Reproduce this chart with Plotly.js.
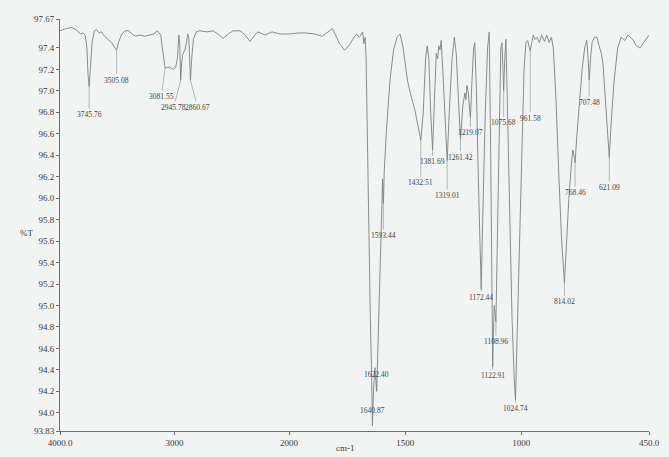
<!DOCTYPE html>
<html>
<head>
<meta charset="utf-8">
<script src="https://cdn.plot.ly/plotly-3.0.1.min.js"></script>
<style>
html,body{margin:0;padding:0;background:#f1f4f3;}
#chart{width:669px;height:457px;}
</style>
</head>
<body>
<div id="chart"></div>
<script>
// ---- Data (wavenumber cm-1, %T) ----
const wavenumber = [
 4000,3950,3900,3860,3820,3800,3780,3765,3755,3745.76,3735,3720,3700,3680,3660,3640,3610,3580,3550,3520,3505.08,3490,3460,3430,3400,3370,3340,3300,3260,3220,3180,3150,3120,3100,3081.55,3060,3040,3010,2990,2975,2962,2955,2945.78,2938,2930,2920,2910,2895,2885,2875,2860.67,2850,2835,2810,2780,2716,2664,2620,2576,2530,2489,2428,2380,2341,2300,2271,2210,2148,2079,2000,
 1960,1926,1890,1857,1830,1813,1795,1783,1761,1739,1720,1709,1697,1690,1683,1678,1672,1668,1662,1656,1650,1645,1640.87,1636,1630,1626,1622.40,1616,1608,1600,1597,1595,1593.44,1590,1580,1565,1550,1535,1522,1510,1501,1490,1479,1458,1445,1432.51,1422,1412,1405,1398,1390,1381.69,1374,1366,1360,1355,1350,1345,1338,1328,1319.01,1310,1298,1288,1280,1270,1261.42,1252,1243,1238,1234,1229,1224,1219.07,1212,1205,1200,1193,1185,1178,1172.44,1165,1155,1145,1138,1132,1127,1122.91,1119,1116,1113,1108.96,1103,1095,1088,1083,1079,1075.68,1071,1066,1060,1050,1040,1030,1024.74,1018,1008,998,988,980,972,965,961.58,955,948,940,932,922,912,900,890,880,870,862,850,838,826,814.02,805,795,785,778,773,768.46,760,748,738,727,718,712,707.48,702,695,685,674,665,655,648,640,630,621.09,613,600,585,570,554,541,520,505,489,470,450
];
const transmittance = [
 97.56,97.58,97.59,97.57,97.53,97.54,97.52,97.40,97.15,97.04,97.20,97.45,97.56,97.57,97.54,97.55,97.51,97.48,97.45,97.40,97.38,97.45,97.53,97.56,97.56,97.53,97.51,97.52,97.51,97.52,97.53,97.56,97.52,97.35,97.21,97.22,97.22,97.20,97.22,97.30,97.52,97.45,97.10,97.25,97.33,97.36,97.38,97.45,97.53,97.50,97.10,97.30,97.48,97.55,97.56,97.55,97.56,97.53,97.49,97.53,97.56,97.56,97.52,97.46,97.52,97.55,97.52,97.55,97.53,97.53,
 97.54,97.54,97.53,97.51,97.55,97.58,97.50,97.44,97.38,97.43,97.50,97.53,97.50,97.52,97.55,97.44,97.50,97.30,96.40,95.60,94.90,94.45,93.88,94.20,94.42,94.30,94.20,94.70,95.35,95.95,96.18,96.02,95.95,96.25,96.65,97.10,97.38,97.50,97.53,97.42,97.27,97.10,96.99,96.82,96.68,96.54,96.80,97.30,97.42,97.30,96.80,96.45,96.90,97.35,97.30,97.42,97.38,97.47,97.20,96.70,96.35,96.80,97.30,97.50,97.35,96.90,96.55,96.85,96.98,96.92,97.05,97.00,96.90,96.75,97.10,97.40,97.45,97.00,96.20,95.50,95.15,95.90,96.80,97.40,97.55,96.50,95.20,94.43,94.80,95.00,94.92,94.85,95.60,96.60,97.40,97.45,97.20,97.00,97.30,97.48,96.90,95.90,94.90,94.30,94.12,94.70,95.60,96.50,97.20,97.45,97.47,97.40,97.37,97.45,97.52,97.48,97.50,97.45,97.52,97.46,97.52,97.45,97.50,97.40,96.90,96.20,95.60,95.21,95.60,96.00,96.30,96.45,96.40,96.33,96.60,96.95,97.20,97.40,97.47,97.30,97.10,97.30,97.45,97.50,97.50,97.42,97.35,97.25,97.00,96.60,96.38,96.70,97.10,97.40,97.50,97.47,97.52,97.48,97.42,97.40,97.46,97.52
];
const peakText = ["3745.76","3505.08","3081.55","2945.78","2860.67","1640.87","1622.40","1593.44","1432.51","1381.69","1319.01","1261.42","1219.07","1172.44","1122.91","1108.96","1075.68","1024.74","961.58","814.02","768.46","707.48","621.09"];
const peakWavenumber = [3745.76,3505.08,3081.55,2945.78,2860.67,1640.87,1622.40,1593.44,1432.51,1381.69,1319.01,1261.42,1219.07,1172.44,1122.91,1108.96,1075.68,1024.74,961.58,814.02,768.46,707.48,621.09];
const peakValue = [97.04,97.38,97.21,97.10,97.10,93.88,94.20,95.95,96.54,96.45,96.35,96.55,96.75,95.15,94.43,94.85,97.00,94.12,97.37,95.21,96.33,97.10,96.38];
const yTickVals = [97.67,97.4,97.2,97.0,96.8,96.6,96.4,96.2,96.0,95.8,95.6,95.4,95.2,95.0,94.8,94.6,94.4,94.2,94.0,93.83];
const yTickText = ["97.67","97.4","97.2","97.0","96.8","96.6","96.4","96.2","96.0","95.8","95.6","95.4","95.2","95.0","94.8","94.6","94.4","94.2","94.0","93.83"];
const xLeftTickVals = [4000,3000];
const xLeftTickText = ["4000.0","3000"];
const xRightTickVals = [2000,1500,1000,450];
const xRightTickText = ["2000","1500","1000","450.0"];

// ---- label placement (pixel offsets of each label from its peak) ----
const labelDrop = [28,30,28,27,27,-15,-17,32,42,12,35,18,15,8,9,20,32,9,67,19,30,22,30];
const labelSide = [0,0,-4,-7,7,0,0,0,0,0,0,0,0,0,0,0,0,0,0,0,0,0,0];

// split spectrum at 2000 cm-1 (the recorder changes scale there)
const lx=[],ly=[],rx=[],ry=[];
for(let i=0;i<wavenumber.length;i++){
  if(wavenumber[i]>=2000){lx.push(wavenumber[i]);ly.push(transmittance[i]);}
  if(wavenumber[i]<=2000){rx.push(wavenumber[i]);ry.push(transmittance[i]);}
}
const lineStyle={color:'#7e8180',width:0.9};
const traces=[
  {x:lx,y:ly,xaxis:'x',yaxis:'y',type:'scatter',mode:'lines',line:lineStyle,hoverinfo:'skip'},
  {x:rx,y:ry,xaxis:'x2',yaxis:'y',type:'scatter',mode:'lines',line:lineStyle,hoverinfo:'skip'}
];
const font={family:'"Liberation Serif", "DejaVu Serif", serif',color:'#3a3a3a'};
const annotations=peakText.map((t,i)=>({
  x:peakWavenumber[i], y:peakValue[i],
  xref: peakWavenumber[i]>2000?'x':'x2', yref:'y',
  text:t, showarrow:true, arrowhead:0, arrowwidth:0.6, arrowcolor:'#8a8d8c',
  ax:labelSide[i], ay:labelDrop[i], standoff:0, startstandoff:0,
  font:Object.assign({},font,{size:7.5,color:'#444444'})
}));
annotations.push({xref:'paper',yref:'paper',x:-0.072,y:0.48,text:'%T',showarrow:false,
  xanchor:'left',font:Object.assign({},font,{size:9})});
annotations.push({xref:'paper',yref:'paper',x:0.485,y:-0.058,yanchor:'bottom',text:'cm-1',showarrow:false,
  font:Object.assign({},font,{size:9})});

const axCommon={showgrid:false,zeroline:false,showline:true,linecolor:'#6d6f6e',linewidth:1,
  ticks:'outside',ticklen:3,tickcolor:'#6d6f6e',tickfont:Object.assign({},font,{size:9}),
  tickmode:'array',anchor:'y'};
const split=229/589;
const layout={
  width:669,height:457,
  margin:{l:60,r:20,t:19,b:26},
  paper_bgcolor:'#f1f4f3',plot_bgcolor:'#f1f4f3',
  showlegend:false,
  xaxis:Object.assign({},axCommon,{domain:[0,split],range:[4000,2000],tickvals:xLeftTickVals,ticktext:xLeftTickText}),
  xaxis2:Object.assign({},axCommon,{domain:[split,1],range:[2000,450],tickvals:xRightTickVals,ticktext:xRightTickText}),
  yaxis:{range:[93.83,97.67],showgrid:false,zeroline:false,showline:true,linecolor:'#6d6f6e',linewidth:1,
    ticks:'outside',ticklen:3,tickcolor:'#6d6f6e',tickmode:'array',tickvals:yTickVals,ticktext:yTickText,
    tickfont:Object.assign({},font,{size:9}),anchor:'x'},
  annotations:annotations,
  font:font
};
Plotly.newPlot('chart',traces,layout,{staticPlot:true,displayModeBar:false});
</script>
</body>
</html>
